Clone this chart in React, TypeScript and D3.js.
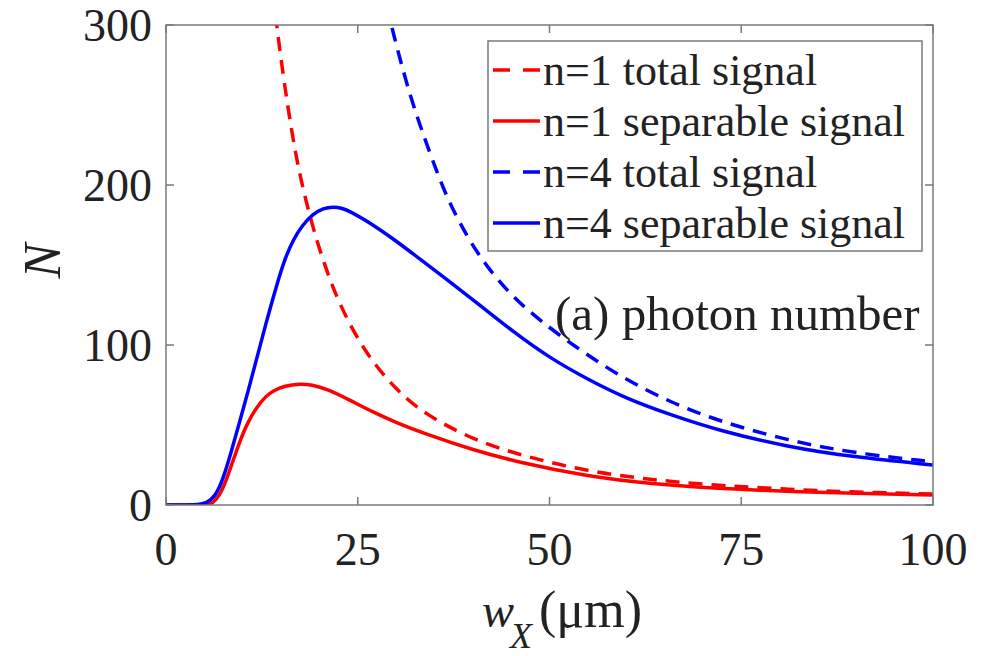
import React from "react";
import * as d3 from "d3";

// n=1 total signal (dashed red)
const totalN1X = [14.0, 14.4, 15.3, 16.1, 17.2, 18.75, 20.5, 22.7, 26.1, 30, 33.5, 40, 47, 55, 63.4, 72, 81, 90, 100];
const totalN1Y = [321, 300, 268, 242, 211, 180, 152, 124, 94, 72, 57.5, 40.6, 30, 21, 15.6, 12.2, 9.8, 8, 6.9];

// n=1 separable signal (solid red)
const sepN1X = [0, 4, 5.3, 6.1, 7.0, 7.9, 9.6, 10.7, 11.8, 13, 14, 15.5, 17.4, 19, 21, 24, 27, 30, 33.5, 40, 46.1, 54.8, 63.4, 72, 81, 89.5, 100];
const sepN1Y = [0, 0, 0, 1, 6, 15.6, 40, 52, 61, 68, 71.5, 74.5, 75.8, 75.2, 72.5, 65.5, 58, 51.5, 45, 34.4, 26.5, 18, 13, 10.3, 8.5, 7.3, 6.2];

// n=4 total signal (dashed blue)
const totalN4X = [28.8, 29.4, 31.8, 34.4, 36.5, 39.2, 41.8, 45.2, 48.7, 53, 59.1, 65.6, 72, 80.9, 89.5, 100];
const totalN4Y = [312, 299, 255, 220, 193, 168, 149, 130, 115.6, 100, 80.5, 64.5, 52.5, 40.5, 32.5, 27];

// n=4 separable signal (solid blue)
const sepN4X = [0, 4, 5.3, 6.5, 7.4, 8.5, 9.6, 10.7, 11.8, 13, 14.4, 15.5, 16.6, 17.8, 19.2, 20.5, 21.8, 23, 24, 26, 27.9, 30, 32.2, 36.6, 40.9, 45.2, 50, 54.8, 60, 66, 72.1, 80.9, 89.5, 100];
const sepN4Y = [0, 0, 1, 6, 15.6, 33, 52, 71, 91, 113, 137, 154, 166, 175, 182, 185.5, 186.5, 185.5, 183.5, 178, 172, 165, 157, 141, 125, 108.5, 92, 79, 66.5, 56, 46.5, 36.5, 30, 25];

const xTicks = [0, 25, 50, 75, 100];
const yTicks = [0, 100, 200, 300];
const legendLabels = ["n=1 total signal", "n=1 separable signal", "n=4 total signal", "n=4 separable signal"];

const RED = "#ff0000";
const BLUE = "#0000ff";
const FRAME = "#7a7a7a";
const FONT = "Times New Roman";

export default function App() {
  const left = 166, right = 933, top = 25, bottom = 505;
  const x = d3.scaleLinear().domain([0, 100]).range([left, right]);
  const y = d3.scaleLinear().domain([0, 300]).range([bottom, top]);

  const mk = (xs: number[], ys: number[]) =>
    d3.line<number>()
      .x((_, i) => x(xs[i]))
      .y((_, i) => y(ys[i]))
      .curve(d3.curveBasis)(xs);

  const series = [
    { d: mk(totalN1X, totalN1Y), color: RED, dash: "14 9" },
    { d: mk(sepN1X, sepN1Y), color: RED, dash: undefined },
    { d: mk(totalN4X, totalN4Y), color: BLUE, dash: "14 9" },
    { d: mk(sepN4X, sepN4Y), color: BLUE, dash: undefined },
  ];
  const drawOrder = [1, 0, 3, 2];

  const tickLen = 8;
  const legendRowsY = [85, 136, 187, 238];

  return (
    <svg
      width={986}
      height={656}
      style={{ position: "absolute", left: 0, top: 0, background: "#fff" }}
      fontFamily={FONT}
    >
      <defs>
        <clipPath id="plotClip">
          <rect x={left} y={top} width={right - left} height={bottom - top} />
        </clipPath>
      </defs>
      <rect x={0} y={0} width={986} height={656} fill="#fff" />

      <g clipPath="url(#plotClip)">
        {drawOrder.map((i) => (
          <path
            key={i}
            d={series[i].d || ""}
            fill="none"
            stroke={series[i].color}
            strokeWidth={3.5}
            strokeDasharray={series[i].dash}
            strokeLinejoin="round"
          />
        ))}
      </g>

      <rect x={left} y={top} width={right - left} height={bottom - top} fill="none" stroke={FRAME} strokeWidth={1.5} />
      {xTicks.map((t) => (
        <g key={"xt" + t}>
          <line x1={x(t)} x2={x(t)} y1={bottom} y2={bottom - tickLen} stroke={FRAME} strokeWidth={1.5} />
          <line x1={x(t)} x2={x(t)} y1={top} y2={top + tickLen} stroke={FRAME} strokeWidth={1.5} />
          <text x={x(t)} y={565} textAnchor="middle" fontSize={46} fontFamily={FONT} fill="#222">{t}</text>
        </g>
      ))}
      {yTicks.map((t) => (
        <g key={"yt" + t}>
          <line x1={left} x2={left + tickLen} y1={y(t)} y2={y(t)} stroke={FRAME} strokeWidth={1.5} />
          <line x1={right} x2={right - tickLen} y1={y(t)} y2={y(t)} stroke={FRAME} strokeWidth={1.5} />
          <text x={152} y={y(t) + 16} textAnchor="end" fontSize={46} fontFamily={FONT} fill="#222">{t}</text>
        </g>
      ))}

      <text transform="translate(60,261) rotate(-90)" textAnchor="middle" fontSize={52} fontStyle="italic" fontFamily={FONT} fill="#222">N</text>
      <text x={482} y={627} fontSize={48} fontStyle="italic" fontFamily={FONT} fill="#222">w</text>
      <text x={510} y={648} fontSize={36} fontStyle="italic" fontFamily={FONT} fill="#222">X</text>
      <text x={539} y={627} fontSize={52} fontFamily={FONT} fill="#222">(μm)</text>

      <text x={555} y={330} fontSize={49} fontFamily={FONT} fill="#222">(a) photon number</text>

      <rect x={488} y={41} width={434} height={210} fill="#fff" stroke={FRAME} strokeWidth={1.5} />
      {legendLabels.map((lab, i) => (
        <g key={lab}>
          <line
            x1={493}
            x2={540}
            y1={legendRowsY[i] - 15}
            y2={legendRowsY[i] - 15}
            stroke={series[i].color}
            strokeWidth={3.5}
            strokeDasharray={series[i].dash ? "17 13" : undefined}
          />
          <text x={543} y={legendRowsY[i]} fontSize={44} fontFamily={FONT} fill="#222">{lab}</text>
        </g>
      ))}
    </svg>
  );
}
